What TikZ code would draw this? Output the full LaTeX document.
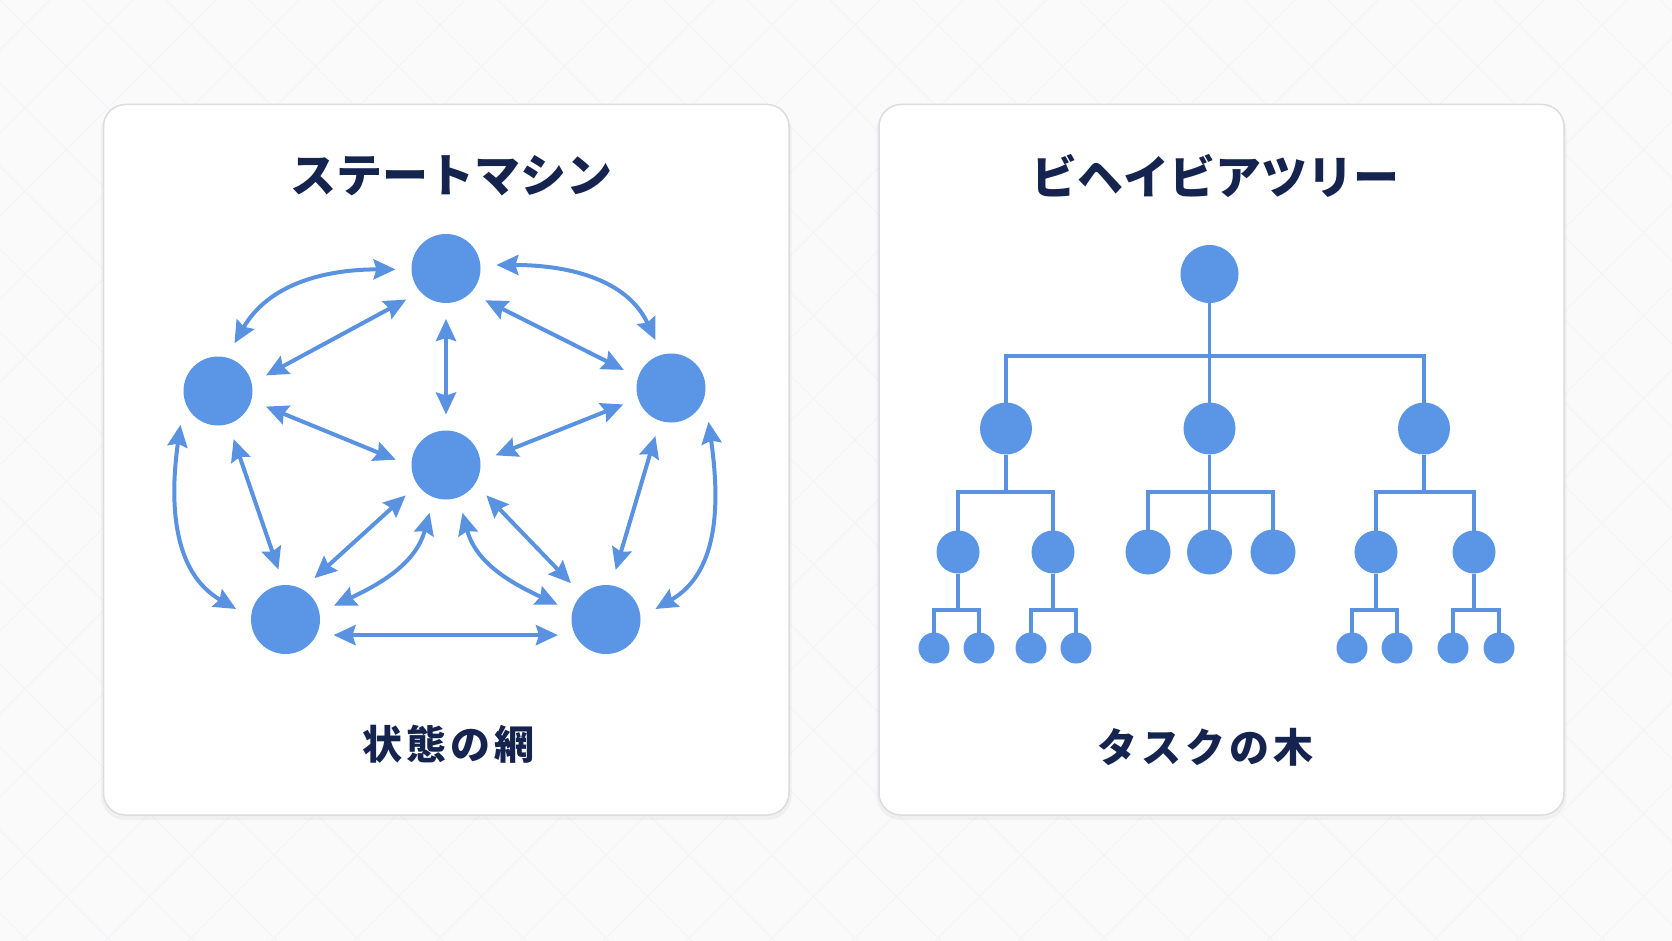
\documentclass[tikz,border=0pt]{standalone}
\usepackage{fontspec}
\newfontfamily\jp{Noto Sans CJK JP}
\usetikzlibrary{arrows.meta}
\definecolor{bg}{HTML}{FAFAFB}
\definecolor{gridc}{HTML}{F3F4F6}
\definecolor{cardborder}{HTML}{DCDDE1}
\definecolor{nodeblue}{HTML}{5B95E6}
\definecolor{lineblue}{HTML}{5A92E2}
\definecolor{navy}{HTML}{14244F}
\begin{document}
\begin{tikzpicture}[x=1pt,y=1pt,
  card/.style={fill=white, draw=cardborder, line width=1.5pt, rounded corners=22pt},
  cardshadow/.style={fill=black, opacity=0.04, rounded corners=24pt},
  state/.style={circle, fill=nodeblue, minimum size=69pt, inner sep=0pt, outer sep=16pt},
  arr/.style={draw=lineblue, line width=4pt,
    arrows={Stealth[length=22pt,width=20pt,inset=3pt]-Stealth[length=22pt,width=20pt,inset=3pt]}},
  tnode/.style={circle, fill=nodeblue, inner sep=0pt, outer sep=0pt, minimum size=#1},
  tline/.style={draw=lineblue, line width=3.2pt},
  title/.style={text=navy, font=\jp\bfseries\fontsize{46}{50}\selectfont, inner sep=0pt},
  subtitle/.style={text=navy, font=\jp\bfseries\fontsize{40}{44}\selectfont\addfontfeature{LetterSpace=10}, inner sep=0pt}
]
\useasboundingbox (0,0) rectangle (1672,-941);
% background
\fill[bg] (0,0) rectangle (1672,-941);
\begin{scope}
\clip (0,0) rectangle (1672,-941);
\foreach \c in {-996,-913,...,2700} {
  \draw[gridc, line width=0.8pt] (\c,0) -- ++(941,-941);
  \draw[gridc, line width=0.8pt] (\c+50,0) -- ++(-941,-941);
}
\end{scope}
% cards
\fill[cardshadow] (101,-106) rectangle (791.5,-820);
\fill[cardshadow] (876.5,-106) rectangle (1566.5,-820);
\draw[card] (103.5,-104.5) rectangle (789,-815);
\draw[card] (879,-104.5) rectangle (1564,-815);
% titles
\node[title] (t1) at (451,-176) {ステートマシン};
\node[title] (t2) at (1215,-176) {ビヘイビアツリー};
\node[subtitle] (s1) at (448,-744) {状態の網};
\node[subtitle] (s2) at (1205,-747) {タスクの木};
% state machine
\node[state] (T) at (446,-268.5) {};
\node[state] (L) at (218,-391) {};
\node[state] (R) at (671,-388) {};
\node[state] (C) at (446,-465) {};
\node[state] (BL) at (285.5,-619.5) {};
\node[state] (BR) at (606,-619.5) {};
\draw[arr] (L.71) to[out=60,in=180] (T.181);
\draw[arr] (T.4) to[out=0,in=115] (R.108);
\draw[arr] (T.218) -- (L.18);
\draw[arr] (T.321) -- (R.159);
\draw[arr] (T.270) -- (C.90);
\draw[arr] (L.342) -- (C.174);
\draw[arr] (R.199) -- (C.11);
\draw[arr] (L.288) -- (BL.98);
\draw[arr] (L.222) to[out=262,in=150] (BL.168);
\draw[arr] (R.252) -- (BR.79);
\draw[arr] (R.318) to[out=278,in=30] (BR.12);
\draw[arr] (C.217) -- (BL.55);
\draw[arr] (C.251) to[out=255,in=25] (BL.16);
\draw[arr] (C.323) -- (BR.134);
\draw[arr] (C.289) to[out=285,in=155] (BR.163);
\draw[arr] (BL.342) -- (BR.198);
% behaviour tree
\node[tnode=58pt] (root) at (1209.5,-274) {};
\node[tnode=52pt] (a) at (1006,-428.5) {};
\node[tnode=52pt] (b) at (1209.5,-428.5) {};
\node[tnode=52pt] (c) at (1424,-428.5) {};
\node[tnode=43pt] (a1) at (958,-552) {};
\node[tnode=43pt] (a2) at (1053,-552) {};
\node[tnode=45pt] (b1) at (1148,-552) {};
\node[tnode=45pt] (b2) at (1209.5,-552) {};
\node[tnode=45pt] (b3) at (1273,-552) {};
\node[tnode=43pt] (c1) at (1376,-552) {};
\node[tnode=43pt] (c2) at (1474,-552) {};
\node[tnode=31pt] (a11) at (934,-648) {};
\node[tnode=31pt] (a12) at (979,-648) {};
\node[tnode=31pt] (a21) at (1031,-648) {};
\node[tnode=31pt] (a22) at (1076,-648) {};
\node[tnode=31pt] (c11) at (1352,-648) {};
\node[tnode=31pt] (c12) at (1397,-648) {};
\node[tnode=31pt] (c21) at (1453,-648) {};
\node[tnode=31pt] (c22) at (1499,-648) {};
\coordinate (j0) at (1209.5,-356);
\coordinate (ja) at (1006,-492);
\coordinate (jb) at (1209.5,-492);
\coordinate (jc) at (1424,-492);
\coordinate (ja1) at (958,-610);
\coordinate (ja2) at (1053,-610);
\coordinate (jc1) at (1376,-610);
\coordinate (jc2) at (1474,-610);
\draw[tline] (root.south) -- (b.north);
\draw[tline] (a.north) |- (j0) -| (c.north);
\draw[tline] (a.south) -- (ja);
\draw[tline] (a1.north) |- (ja) -| (a2.north);
\draw[tline] (b.south) -- (b2.north);
\draw[tline] (b1.north) |- (jb) -| (b3.north);
\draw[tline] (c.south) -- (jc);
\draw[tline] (c1.north) |- (jc) -| (c2.north);
\draw[tline] (a1.south) -- (ja1);
\draw[tline] (a11.north) |- (ja1) -| (a12.north);
\draw[tline] (a2.south) -- (ja2);
\draw[tline] (a21.north) |- (ja2) -| (a22.north);
\draw[tline] (c1.south) -- (jc1);
\draw[tline] (c11.north) |- (jc1) -| (c12.north);
\draw[tline] (c2.south) -- (jc2);
\draw[tline] (c21.north) |- (jc2) -| (c22.north);
\end{tikzpicture}
\end{document}
